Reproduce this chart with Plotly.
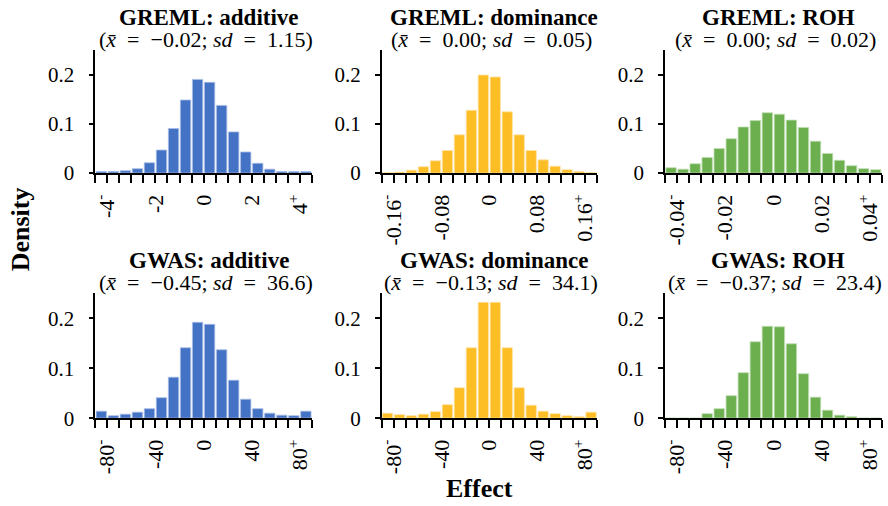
import numpy as np
import plotly.graph_objects as go

W, H = 888, 506

# ---------------- data ----------------
titles = ["GREML: additive", "GREML: dominance", "GREML: ROH",
          "GWAS: additive", "GWAS: dominance", "GWAS: ROH"]
means = ["−0.02", "0.00", "0.00", "−0.45", "−0.13", "−0.37"]
sds = ["1.15", "0.05", "0.02", "36.6", "34.1", "23.4"]

bin_width = [0.5, 0.02, 0.005, 10, 10, 10]
n_bins = 18

greml_add = [0.003, 0.003, 0.005, 0.009, 0.021, 0.047, 0.091, 0.149, 0.191,
             0.185, 0.138, 0.084, 0.043, 0.020, 0.008, 0.003, 0.003, 0.003]
greml_dom = [0.001, 0.002, 0.006, 0.013, 0.025, 0.046, 0.078, 0.128, 0.200,
             0.196, 0.125, 0.078, 0.046, 0.027, 0.014, 0.007, 0.003, 0.001]
greml_roh = [0.011, 0.008, 0.019, 0.032, 0.050, 0.070, 0.094, 0.107, 0.123,
             0.120, 0.108, 0.093, 0.065, 0.040, 0.026, 0.015, 0.009, 0.007]
gwas_add = [0.014, 0.005, 0.008, 0.012, 0.019, 0.041, 0.082, 0.141, 0.192,
            0.188, 0.137, 0.076, 0.038, 0.019, 0.010, 0.006, 0.005, 0.014]
gwas_dom = [0.010, 0.007, 0.005, 0.008, 0.013, 0.027, 0.061, 0.141, 0.232,
            0.232, 0.141, 0.061, 0.026, 0.014, 0.009, 0.005, 0.003, 0.012]
gwas_roh = [0.0, 0.0, 0.0, 0.009, 0.019, 0.045, 0.091, 0.153, 0.184,
            0.183, 0.149, 0.089, 0.042, 0.016, 0.006, 0.003, 0.0, 0.0]
series = [greml_add, greml_dom, greml_roh, gwas_add, gwas_dom, gwas_roh]

tick_vals = [[-4, -2, 0, 2, 4],
             [-0.16, -0.08, 0, 0.08, 0.16],
             [-0.04, -0.02, 0, 0.02, 0.04],
             [-80, -40, 0, 40, 80],
             [-80, -40, 0, 40, 80],
             [-80, -40, 0, 40, 80]]
tick_text = [["-4<sup>-</sup>", "-2", "0", "2", "4<sup>+</sup>"],
             ["-0.16<sup>-</sup>", "-0.08", "0", "0.08", "0.16<sup>+</sup>"],
             ["-0.04<sup>-</sup>", "-0.02", "0", "0.02", "0.04<sup>+</sup>"],
             ["-80<sup>-</sup>", "-40", "0", "40", "80<sup>+</sup>"],
             ["-80<sup>-</sup>", "-40", "0", "40", "80<sup>+</sup>"],
             ["-80<sup>-</sup>", "-40", "0", "40", "80<sup>+</sup>"]]
y_ticks = [0, 0.1, 0.2]
y_tick_text = ["0", "0.1", "0.2"]

colors = ["#4472C4", "#FDBD24", "#6BAF4E", "#4472C4", "#FDBD24", "#6BAF4E"]
edge_colors = ["#A9BEE6", "#FEE3A4", "#BFDDB2", "#A9BEE6", "#FEE3A4", "#BFDDB2"]

# ---------------- layout (pixels) ----------------
col_px = [(91.7, 309.3), (379.3, 595.7), (664.0, 881.7)]
row_px = [(51.7, 177.3), (300.5, 428.3)]

def px_x(v):
    return v / W

def px_y(v):
    return 1 - v / H

SERIF = "Liberation Serif, Times New Roman, serif"
SP = "\u2002"

fig = go.Figure()
annotations = []
for i in range(6):
    r, c = divmod(i, 3)
    ax = "" if i == 0 else str(i + 1)
    bw = bin_width[i]
    half = bw * n_bins / 2
    edges = np.linspace(-half, half, n_bins + 1)
    centers = (edges[:-1] + edges[1:]) / 2
    fig.add_trace(go.Bar(x=centers, y=series[i], marker_color=colors[i],
                         marker_line_width=0.8, marker_line_color=edge_colors[i],
                         xaxis="x" + ax, yaxis="y" + ax,
                         showlegend=False, hoverinfo="x+y"))
    x0, x1 = col_px[c]
    y0, y1 = row_px[r]
    fig.layout["xaxis" + ax] = dict(
        domain=[px_x(x0), px_x(x1)], range=[-half, half], anchor="y" + ax,
        tickmode="array", tickvals=tick_vals[i], ticktext=tick_text[i],
        tickangle=-90, ticks="outside", ticklen=8, tickwidth=1.5,
        tickcolor="black", ticklabelstandoff=3,
        minor=dict(tickmode="array", tickvals=list(edges), ticks="outside",
                   ticklen=8, tickwidth=1.5, tickcolor="black", showgrid=False),
        showline=True, linecolor="black", linewidth=1.5, showgrid=False,
        zeroline=False, tickfont=dict(family=SERIF, size=22, color="black"))
    fig.layout["yaxis" + ax] = dict(
        domain=[px_y(y1), px_y(y0)], range=[0, 0.25], anchor="x" + ax,
        tickmode="array", tickvals=y_ticks, ticktext=y_tick_text,
        ticks="outside", ticklen=5, tickwidth=1.5, tickcolor="black",
        ticklabelstandoff=10,
        showline=True, linecolor="black", linewidth=1.5, showgrid=False,
        zeroline=False, tickfont=dict(family=SERIF, size=21, color="black"))
    cx = (x0 + x1) / 2 + 5
    top = r * 249
    annotations.append(dict(
        x=px_x(cx), y=px_y(top + 18), xref="paper", yref="paper",
        text="<b>" + titles[i] + "</b>", showarrow=False,
        xanchor="center", yanchor="middle",
        font=dict(family=SERIF, size=23, color="black")))
    annotations.append(dict(
        x=px_x(cx - 3), y=px_y(top + 40), xref="paper", yref="paper",
        text="(<i>x\u0304</i>" + SP + "=" + SP + means[i] + "; <i>sd</i>"
             + SP + "=" + SP + sds[i] + ")",
        showarrow=False, xanchor="center", yanchor="middle",
        font=dict(family=SERIF, size=22, color="black")))

annotations.append(dict(x=px_x(16), y=px_y(235), xref="paper", yref="paper",
                        text="<b>Density</b>", textangle=-90, showarrow=False,
                        xanchor="center", yanchor="middle",
                        font=dict(family=SERIF, size=26, color="black")))
annotations.append(dict(x=px_x(478), y=px_y(500), xref="paper", yref="paper",
                        text="<b>Effect</b>", showarrow=False,
                        xanchor="center", yanchor="middle",
                        font=dict(family=SERIF, size=26, color="black")))

fig.update_layout(width=W, height=H, margin=dict(l=0, r=0, t=0, b=0),
                  paper_bgcolor="white", plot_bgcolor="white",
                  bargap=0.14, annotations=annotations)

fig.write_html("out.html")
